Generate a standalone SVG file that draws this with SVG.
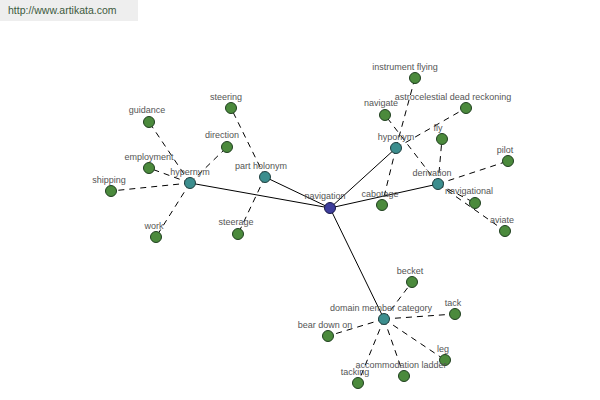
<svg xmlns="http://www.w3.org/2000/svg" width="600" height="400" viewBox="0 0 600 400">
<style>
text{font-family:"Liberation Sans",Arial,sans-serif;font-size:9px;fill:#555;text-anchor:middle}
.hdr{font-size:10.5px;fill:#3d5a3d;text-anchor:start}
.s{stroke:#000;stroke-width:1;fill:none}
.d{stroke:#000;stroke-width:1;fill:none;stroke-dasharray:6,5}
.leaf{fill:#4b8a3c;stroke:#1f3f1f;stroke-width:1}
.rel{fill:#3c8e8e;stroke:#1f3f3f;stroke-width:1}
.root{fill:#3d3d9c;stroke:#1a1a4a;stroke-width:1}
</style>
<rect x="0" y="0" width="600" height="400" fill="#fff"/>
<rect x="0" y="0" width="138" height="21" fill="#eeeeee"/>
<text class="hdr" x="8" y="14">http://www.artikata.com</text>
<g id="connectors">
<line class="s" x1="330" y1="208" x2="190" y2="183"/>
<line class="s" x1="330" y1="208" x2="265" y2="177"/>
<line class="s" x1="330" y1="208" x2="396" y2="148"/>
<line class="s" x1="330" y1="208" x2="438" y2="184"/>
<line class="s" x1="330" y1="208" x2="384" y2="319"/>
<line class="d" x1="190" y1="183" x2="149" y2="122"/>
<line class="d" x1="190" y1="183" x2="149" y2="168"/>
<line class="d" x1="190" y1="183" x2="111" y2="191"/>
<line class="d" x1="190" y1="183" x2="156" y2="237"/>
<line class="d" x1="190" y1="183" x2="227" y2="147"/>
<line class="d" x1="265" y1="177" x2="231" y2="108"/>
<line class="d" x1="265" y1="177" x2="238" y2="234"/>
<line class="d" x1="396" y1="148" x2="415" y2="78"/>
<line class="d" x1="396" y1="148" x2="466" y2="108"/>
<line class="d" x1="396" y1="148" x2="382" y2="205"/>
<line class="d" x1="438" y1="184" x2="385" y2="115"/>
<line class="d" x1="438" y1="184" x2="442" y2="139"/>
<line class="d" x1="438" y1="184" x2="508" y2="161"/>
<line class="d" x1="438" y1="184" x2="475" y2="203"/>
<line class="d" x1="438" y1="184" x2="505" y2="231"/>
<line class="d" x1="384" y1="319" x2="412" y2="282"/>
<line class="d" x1="384" y1="319" x2="455" y2="314"/>
<line class="d" x1="384" y1="319" x2="328" y2="336"/>
<line class="d" x1="384" y1="319" x2="445" y2="360"/>
<line class="d" x1="384" y1="319" x2="404" y2="376"/>
<line class="d" x1="384" y1="319" x2="358" y2="383"/>
</g>
<g id="n-guidance"><circle class="leaf" cx="149" cy="122" r="5.5"/><text x="147" y="113">guidance</text></g>
<g id="n-employment"><circle class="leaf" cx="149" cy="168" r="5.5"/><text x="149" y="160">employment</text></g>
<g id="n-shipping"><circle class="leaf" cx="111" cy="191" r="5.5"/><text x="109" y="183">shipping</text></g>
<g id="n-work"><circle class="leaf" cx="156" cy="237" r="5.5"/><text x="154" y="229">work</text></g>
<g id="n-direction"><circle class="leaf" cx="227" cy="147" r="5.5"/><text x="222" y="138">direction</text></g>
<g id="n-steering"><circle class="leaf" cx="231" cy="108" r="5.5"/><text x="226" y="100">steering</text></g>
<g id="n-steerage"><circle class="leaf" cx="238" cy="234" r="5.5"/><text x="236" y="225">steerage</text></g>
<g id="n-instrument-flying"><circle class="leaf" cx="415" cy="78" r="5.5"/><text x="405" y="70">instrument flying</text></g>
<g id="n-navigate"><circle class="leaf" cx="385" cy="115" r="5.5"/><text x="381" y="106">navigate</text></g>
<g id="n-astrocelestial"><circle class="leaf" cx="466" cy="108" r="5.5"/><text x="453" y="100">astrocelestial dead reckoning</text></g>
<g id="n-fly"><circle class="leaf" cx="442" cy="139" r="5.5"/><text x="438" y="131">fly</text></g>
<g id="n-pilot"><circle class="leaf" cx="508" cy="161" r="5.5"/><text x="505" y="153">pilot</text></g>
<g id="n-navigational"><circle class="leaf" cx="475" cy="203" r="5.5"/><text x="469" y="194">navigational</text></g>
<g id="n-aviate"><circle class="leaf" cx="505" cy="231" r="5.5"/><text x="502" y="223">aviate</text></g>
<g id="n-cabotage"><circle class="leaf" cx="382" cy="205" r="5.5"/><text x="380" y="197">cabotage</text></g>
<g id="n-becket"><circle class="leaf" cx="412" cy="282" r="5.5"/><text x="410" y="274">becket</text></g>
<g id="n-tack"><circle class="leaf" cx="455" cy="314" r="5.5"/><text x="453" y="306">tack</text></g>
<g id="n-bear-down-on"><circle class="leaf" cx="328" cy="336" r="5.5"/><text x="325" y="328">bear down on</text></g>
<g id="n-leg"><circle class="leaf" cx="445" cy="360" r="5.5"/><text x="443" y="352">leg</text></g>
<g id="n-accommodation-ladder"><circle class="leaf" cx="404" cy="376" r="5.5"/><text x="401" y="368">accommodation ladder</text></g>
<g id="n-tacking"><circle class="leaf" cx="358" cy="383" r="5.5"/><text x="355" y="375">tacking</text></g>
<g id="n-hypernym"><circle class="rel" cx="190" cy="183" r="5.5"/><text x="190" y="175">hypernym</text></g>
<g id="n-part-holonym"><circle class="rel" cx="265" cy="177" r="5.5"/><text x="261" y="169">part holonym</text></g>
<g id="n-hyponym"><circle class="rel" cx="396" cy="148" r="5.5"/><text x="396" y="140">hyponym</text></g>
<g id="n-derivation"><circle class="rel" cx="438" cy="184" r="5.5"/><text x="432" y="176">derivation</text></g>
<g id="n-domain"><circle class="rel" cx="384" cy="319" r="5.5"/><text x="381" y="311">domain member category</text></g>
<g id="n-navigation"><circle class="root" cx="330" cy="208" r="5.5"/><text x="325" y="199">navigation</text></g>
</svg>
